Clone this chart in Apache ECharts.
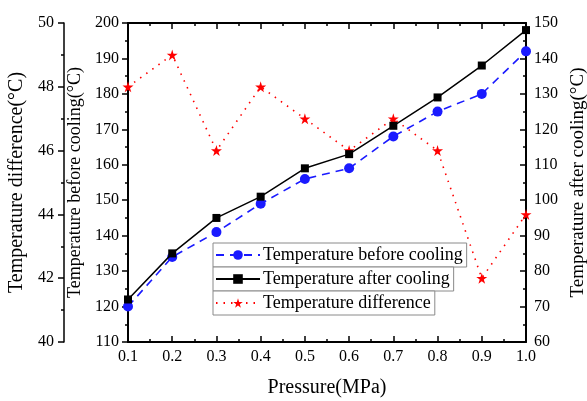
<!DOCTYPE html>
<html>
<head>
<meta charset="utf-8">
<script src="https://cdn.jsdelivr.net/npm/echarts@6/dist/echarts.min.js"></script>
<style>html,body{margin:0;padding:0;background:#fff}#c{width:587px;height:401px}</style>
</head>
<body>
<div id="c"></div>
<script>
var pressure = [0.1, 0.2, 0.3, 0.4, 0.5, 0.6, 0.7, 0.8, 0.9, 1.0];
var tempBefore = [120, 134, 141, 149, 156, 159, 168, 175, 180, 192];
var tempAfter = [72, 85, 95, 101, 109, 113, 121, 129, 138, 148];
var tempDiff = [48, 49, 46, 48, 47, 46, 47, 46, 42, 44];

var FONT = 'Liberation Serif';
var STAR = 'path://M50,0 L61,35 L98,35 L68,57 L79,91 L50,70 L21,91 L32,57 L2,35 L39,35 Z';
function pairs(ys){ return pressure.map(function(x,i){ return [x, ys[i]]; }); }

var chart = echarts.init(document.getElementById('c'), null, {renderer:'canvas'});
var axLine = {show:true, lineStyle:{color:'#000', width:2}};
var lab = {color:'#000', fontFamily:FONT, fontSize:16};

function legendBox(name, left, top){
  return {
    data:[name], left:left, top:top, orient:'horizontal',
    borderColor:'#8a8a8a', borderWidth:1, padding:[3,4,3,2],
    itemWidth:44, itemHeight:12, itemGap:0,
    textStyle:{color:'#000', fontFamily:FONT, fontSize:18, padding:[0,0,0,-2]},
    backgroundColor:'#fff'
  };
}

chart.setOption({
  animation:false,
  backgroundColor:'#fff',
  grid:{left:128, right:61, top:23, bottom:59, containLabel:false, outerBoundsMode:'none'},
  xAxis:[{
    type:'value', min:0.1, max:1.0, interval:0.1, position:'bottom',
    name:'Pressure(MPa)', nameLocation:'middle', nameGap:36,
    nameTextStyle:{color:'#000', fontFamily:FONT, fontSize:20},
    axisLine:axLine,
    axisTick:{show:true, inside:true, length:6, lineStyle:{color:'#000', width:1.5}},
    minorTick:{show:true, splitNumber:2, length:3, lineStyle:{color:'#000', width:1.5}},
    axisLabel:Object.assign({margin:7, formatter:function(v){return v.toFixed(1);}}, lab),
    splitLine:{show:false}
  },{
    type:'value', min:0.1, max:1.0, interval:0.1, position:'top',
    axisLine:axLine,
    axisTick:{show:true, inside:true, length:6, lineStyle:{color:'#000', width:1.5}},
    minorTick:{show:true, splitNumber:2, length:3, lineStyle:{color:'#000', width:1.5}},
    axisLabel:{show:false}, splitLine:{show:false}
  }],
  yAxis:[{
    type:'value', min:110, max:200, interval:10, position:'left', offset:0,
    name:'Temperature before cooling(°C)', nameLocation:'middle', nameGap:41,
    nameTextStyle:{color:'#000', fontFamily:FONT, fontSize:18},
    axisLine:axLine,
    axisTick:{show:true, inside:false, length:6, lineStyle:{color:'#000', width:1.5}},
    minorTick:{show:true, splitNumber:2, length:3, lineStyle:{color:'#000', width:1.5}},
    axisLabel:Object.assign({margin:9}, lab),
    splitLine:{show:false}
  },{
    type:'value', min:60, max:150, interval:10, position:'right', offset:0,
    name:'Temperature after cooling(°C)', nameLocation:'middle', nameGap:40,
    nameTextStyle:{color:'#000', fontFamily:FONT, fontSize:19},
    axisLine:axLine,
    axisTick:{show:true, inside:true, length:6, lineStyle:{color:'#000', width:1.5}},
    minorTick:{show:true, splitNumber:2, length:3, lineStyle:{color:'#000', width:1.5}},
    axisLabel:Object.assign({margin:8}, lab),
    splitLine:{show:false}
  },{
    type:'value', min:40, max:50, interval:2, position:'left', offset:64,
    name:'Temperature difference(°C)', nameLocation:'middle', nameGap:32,
    nameTextStyle:{color:'#000', fontFamily:FONT, fontSize:20},
    axisLine:{show:true, lineStyle:{color:'#000', width:1.5}},
    axisTick:{show:true, inside:false, length:6, lineStyle:{color:'#000', width:1.5}},
    minorTick:{show:true, splitNumber:2, length:3, lineStyle:{color:'#000', width:1.5}},
    axisLabel:Object.assign({margin:10}, lab),
    splitLine:{show:false}
  }],
  legend:[
    legendBox('Temperature before cooling', 213, 243),
    legendBox('Temperature after cooling', 213, 267),
    legendBox('Temperature difference', 213, 291)
  ],
  series:[{
    name:'Temperature before cooling', type:'line', xAxisIndex:0, yAxisIndex:0,
    data:pairs(tempBefore), symbol:'circle', symbolSize:10,
    lineStyle:{color:'#1a1aff', width:1.6, type:[8,6]},
    itemStyle:{color:'#1a1aff'}, z:3
  },{
    name:'Temperature after cooling', type:'line', xAxisIndex:0, yAxisIndex:1,
    data:pairs(tempAfter), symbol:'rect', symbolSize:8,
    lineStyle:{color:'#000', width:1.5, type:'solid'},
    itemStyle:{color:'#000'}, z:4
  },{
    name:'Temperature difference', type:'line', xAxisIndex:0, yAxisIndex:2,
    data:pairs(tempDiff), symbol:STAR, symbolSize:11,
    lineStyle:{color:'#ff0000', width:1.6, type:[1.5,6]},
    itemStyle:{color:'#ff0000'}, z:2
  }]
});
</script>
</body>
</html>
